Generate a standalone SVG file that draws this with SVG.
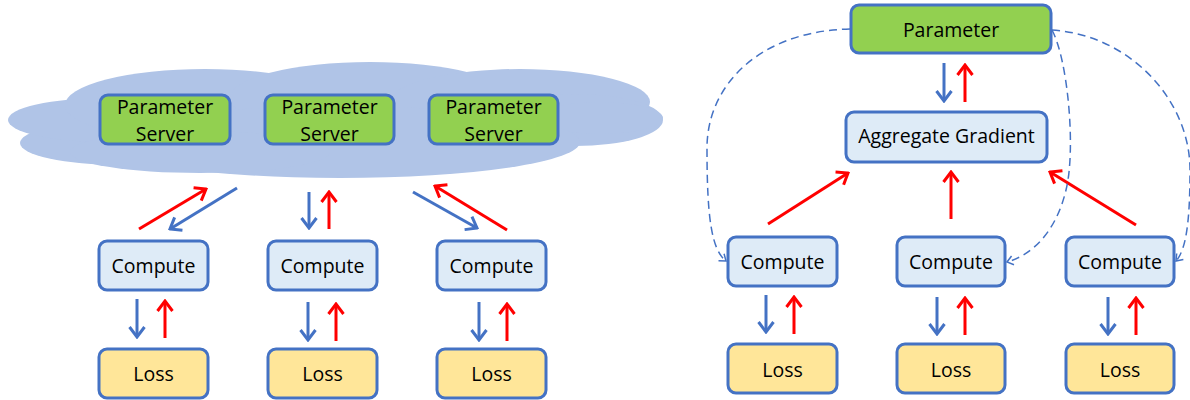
<svg xmlns="http://www.w3.org/2000/svg" width="1190" height="400" viewBox="0 0 1190 400">
<style>
.box{stroke:#4472C4;stroke-width:3}
.g{fill:#92D050}
.c{fill:#DEEBF7}
.l{fill:#FFE699}
text{font-family:"Open Sans","Liberation Sans",sans-serif;font-size:19.5px;fill:#000;text-anchor:middle}
.r{stroke:#FF0000;stroke-width:3;fill:none;marker-end:url(#ar)}
.b{stroke:#4472C4;stroke-width:3;fill:none;marker-end:url(#ab)}
.d{stroke:#4472C4;stroke-width:1.5;fill:none;stroke-dasharray:8 5;marker-end:url(#ad)}
.cloud{fill:#B0C4E7}
</style>
<defs>
<marker id="ar" viewBox="-14 -10 16 20" markerWidth="16" markerHeight="20" refX="0" refY="0" orient="auto" markerUnits="userSpaceOnUse"><path d="M-10,-7.5 L0,0 L-10,7.5" fill="none" stroke="#FF0000" stroke-width="3"/></marker>
<marker id="ab" viewBox="-14 -10 16 20" markerWidth="16" markerHeight="20" refX="0" refY="0" orient="auto" markerUnits="userSpaceOnUse"><path d="M-10,-7.5 L0,0 L-10,7.5" fill="none" stroke="#4472C4" stroke-width="3"/></marker>
<marker id="ad" viewBox="-10 -8 12 16" markerWidth="12" markerHeight="16" refX="0" refY="0" orient="auto" markerUnits="userSpaceOnUse"><path d="M-6,-4.5 L0,0 L-6,4.5" fill="none" stroke="#4472C4" stroke-width="1.5"/></marker>
</defs>
<g id="cloud" class="cloud">
<ellipse cx="120" cy="143" rx="100" ry="22"/>
<ellipse cx="105" cy="120" rx="97" ry="22"/>
<ellipse cx="205" cy="105" rx="140" ry="36"/>
<ellipse cx="370" cy="98" rx="140" ry="36"/>
<ellipse cx="520" cy="102" rx="130" ry="33"/>
<ellipse cx="575" cy="120" rx="88" ry="26"/>
<ellipse cx="600" cy="118" rx="63" ry="16"/>
<ellipse cx="340" cy="142" rx="240" ry="36"/>
<ellipse cx="200" cy="152" rx="130" ry="21"/>
</g>
<g id="ps1"><rect class="box g" x="100" y="95" width="130" height="49" rx="8"/><text x="165" y="114">Parameter</text><text x="165" y="141">Server</text></g>
<g id="ps2"><rect class="box g" x="265" y="95" width="129" height="49" rx="8"/><text x="329.5" y="114">Parameter</text><text x="329.5" y="141">Server</text></g>
<g id="ps3"><rect class="box g" x="429" y="95" width="129" height="49" rx="8"/><text x="493.5" y="114">Parameter</text><text x="493.5" y="141">Server</text></g>
<g id="lc1"><rect class="box c" x="99" y="241" width="109" height="49" rx="8"/><text x="153.5" y="273">Compute</text></g>
<g id="lc2"><rect class="box c" x="268" y="241" width="109" height="49" rx="8"/><text x="322.5" y="273">Compute</text></g>
<g id="lc3"><rect class="box c" x="437" y="241" width="109" height="49" rx="8"/><text x="491.5" y="273">Compute</text></g>
<g id="ll1"><rect class="box l" x="99" y="349" width="109" height="49" rx="8"/><text x="153.5" y="381">Loss</text></g>
<g id="ll2"><rect class="box l" x="268" y="349" width="109" height="49" rx="8"/><text x="322.5" y="381">Loss</text></g>
<g id="ll3"><rect class="box l" x="437" y="349" width="109" height="49" rx="8"/><text x="491.5" y="381">Loss</text></g>
<g id="param"><rect class="box g" x="851" y="5" width="200" height="48" rx="8"/><text x="951" y="37">Parameter</text></g>
<g id="agg"><rect class="box c" x="846" y="112" width="201" height="50" rx="8"/><text x="946.5" y="143">Aggregate Gradient</text></g>
<g id="rc1"><rect class="box c" x="728" y="237" width="109" height="49" rx="8"/><text x="782.5" y="269">Compute</text></g>
<g id="rc2"><rect class="box c" x="897" y="237" width="108" height="49" rx="8"/><text x="951" y="269">Compute</text></g>
<g id="rc3"><rect class="box c" x="1066" y="237" width="108" height="49" rx="8"/><text x="1120" y="269">Compute</text></g>
<g id="rl1"><rect class="box l" x="728" y="344" width="109" height="49" rx="8"/><text x="782.5" y="377">Loss</text></g>
<g id="rl2"><rect class="box l" x="897" y="344" width="108" height="49" rx="8"/><text x="951" y="377">Loss</text></g>
<g id="rl3"><rect class="box l" x="1066" y="344" width="108" height="49" rx="8"/><text x="1120" y="377">Loss</text></g>
<g id="connectors">
<line class="r" x1="139" y1="229" x2="206" y2="189"/>
<line class="b" x1="237" y1="188" x2="170" y2="229"/>
<line class="b" x1="309" y1="192" x2="309" y2="228"/>
<line class="r" x1="329" y1="229" x2="329" y2="192"/>
<line class="b" x1="413" y1="192" x2="477" y2="228"/>
<line class="r" x1="507" y1="230" x2="435" y2="186"/>
<line class="b" x1="137" y1="299" x2="137" y2="337"/>
<line class="r" x1="165" y1="338" x2="165" y2="301"/>
<line class="b" x1="308" y1="302" x2="308" y2="340"/>
<line class="r" x1="336" y1="341" x2="336" y2="304"/>
<line class="b" x1="479" y1="302" x2="479" y2="340"/>
<line class="r" x1="507" y1="341" x2="507" y2="304"/>
<line class="b" x1="944" y1="63" x2="944" y2="101"/>
<line class="r" x1="965" y1="102" x2="965" y2="65"/>
<line class="r" x1="768" y1="224" x2="848" y2="173"/>
<line class="r" x1="951" y1="219" x2="951" y2="172"/>
<line class="r" x1="1136" y1="225" x2="1050" y2="172"/>
<line class="b" x1="766" y1="295" x2="766" y2="332"/>
<line class="r" x1="794" y1="334" x2="794" y2="297"/>
<line class="b" x1="937" y1="297" x2="937" y2="334"/>
<line class="r" x1="965" y1="335" x2="965" y2="298"/>
<line class="b" x1="1108" y1="297" x2="1108" y2="334"/>
<line class="r" x1="1136" y1="335" x2="1136" y2="298"/>
<path class="d" d="M850,29 C760,31 706,85 707,150 C707,220 712,250 726,261"/>
<path class="d" d="M1052,30 C1068,60 1076,150 1066,190 C1056,232 1032,255 1007,262"/>
<path class="d" d="M1052,30 C1130,35 1190,100 1190,170 C1190,222 1186,250 1176,261"/>
</g>
</svg>
